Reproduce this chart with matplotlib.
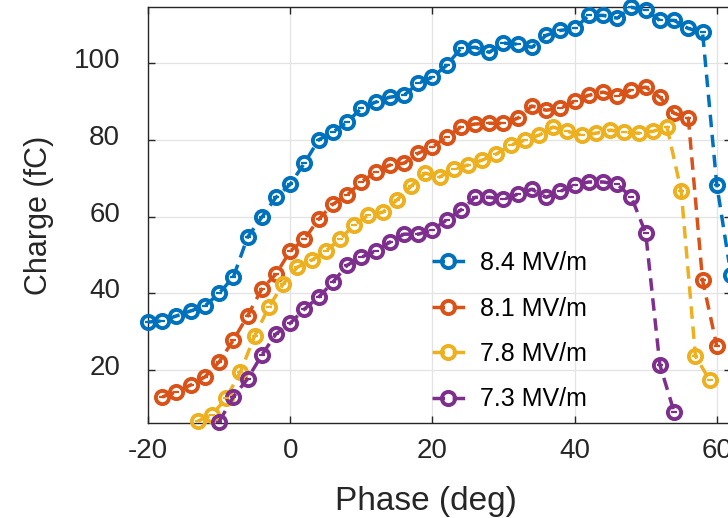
import numpy as np
import matplotlib
matplotlib.use("Agg")
import matplotlib.pyplot as plt
import matplotlib.transforms as mtrans

# datos
fase_84 = [-20, -18, -16, -14, -12, -10, -8, -6, -4, -2, 0, 2, 4, 6, 8, 10, 12, 14, 16, 18,
           20, 22, 24, 26, 28, 30, 32, 34, 36, 38, 40, 42, 44, 46, 48, 50, 52, 54, 56, 58, 60, 62]
carga_84 = [32.5, 32.8, 34.1, 35.4, 36.7, 40.0, 44.2, 54.6, 59.8, 65.0, 68.4, 73.9, 80.0, 82.0,
            84.6, 88.2, 89.8, 91.1, 91.6, 94.7, 96.3, 99.4, 103.8, 104.1, 102.8, 105.2, 104.9,
            104.1, 107.2, 108.5, 109.0, 112.4, 112.4, 111.7, 114.5, 113.8, 111.1, 111.1, 109.0,
            108.0, 68.3, 44.7]

fase_81 = [-18, -16, -14, -12, -10, -8, -6, -4, -2, 0, 2, 4, 6, 8, 10, 12, 14, 16, 18, 20,
           22, 24, 26, 28, 30, 32, 34, 36, 38, 40, 42, 44, 46, 48, 50, 52, 54, 56, 58, 60]
carga_81 = [13.0, 14.3, 16.1, 18.2, 22.1, 27.8, 34.1, 41.1, 45.0, 51.0, 54.1, 59.3, 63.2, 65.6,
            69.0, 71.6, 73.4, 73.9, 76.5, 78.1, 80.7, 83.3, 84.1, 84.3, 84.3, 85.6, 88.8, 87.7,
            88.2, 90.0, 91.6, 92.4, 91.4, 93.0, 93.7, 91.1, 86.9, 85.6, 43.4, 26.3]

fase_78 = [-13, -11, -9, -7, -5, -3, -1, 1, 3, 5, 7, 9, 11, 13, 15, 17, 19, 21, 23, 25,
           27, 29, 31, 33, 35, 37, 39, 41, 43, 45, 47, 49, 51, 53, 55, 57, 59]
carga_78 = [6.7, 8.3, 12.7, 19.5, 28.9, 36.4, 42.4, 46.8, 48.6, 51.0, 54.1, 57.8, 60.4, 61.1,
            64.3, 67.9, 71.3, 70.3, 72.3, 73.4, 74.7, 76.3, 78.6, 79.9, 81.2, 83.3, 82.2, 81.2,
            81.7, 82.5, 82.0, 81.7, 82.2, 83.3, 66.6, 23.6, 17.4]

fase_73 = [-10, -8, -6, -4, -2, 0, 2, 4, 6, 8, 10, 12, 14, 16, 18, 20, 22, 24, 26, 28,
           30, 32, 34, 36, 38, 40, 42, 44, 46, 48, 50, 52, 54]
carga_73 = [6.5, 13.0, 17.7, 23.9, 29.4, 32.2, 35.9, 39.0, 42.9, 47.3, 49.4, 51.0, 53.3, 55.4,
            55.4, 56.5, 59.1, 61.7, 65.0, 65.0, 64.5, 65.8, 67.1, 65.0, 66.6, 68.2, 69.0, 69.0,
            68.4, 65.0, 55.7, 21.3, 9.1]

series = [(fase_84, carga_84, "8.4 MV/m", "#0072BD"),
          (fase_81, carga_81, "8.1 MV/m", "#D95319"),
          (fase_78, carga_78, "7.8 MV/m", "#EDB120"),
          (fase_73, carga_73, "7.3 MV/m", "#7E2F8E")]

plt.rcParams['font.family'] = ['Liberation Sans', 'DejaVu Sans']
plt.rcParams['lines.scale_dashes'] = False
plt.rcParams['axes.unicode_minus'] = False

fig = plt.figure(figsize=(7.28, 5.18), dpi=100)
ax = fig.add_axes([148/728, 95/518, 583/728, 416/518])

for x, y, nombre, col in series:
    ax.plot(x, y, linestyle=(0, (9, 5.5)), color=col, lw=2.5, marker='o',
            fillstyle='none', ms=9.5, mew=2.8, label=nombre, clip_on=False, zorder=3)
    ax.plot(x, y, linestyle='none', color=col, marker='_', ms=5, mew=1.6,
            clip_on=False, zorder=4)

ax.set_xlim(-20, 62)
ax.set_ylim(6.2, 114.6)
ax.set_xticks([-20, 0, 20, 40, 60])
ax.set_yticks([20, 40, 60, 80, 100])
ax.grid(True, color='#e3e3e3', lw=0.9)
ax.set_axisbelow(True)
ax.tick_params(direction='in', length=5, width=1, top=True, right=True,
               labelsize=20, colors='#262626')
ax.tick_params(axis='x', pad=11)
ax.tick_params(axis='y', pad=20)
subir = mtrans.ScaledTranslation(0, 5/100, fig.dpi_scale_trans)
for lab in ax.get_yticklabels():
    lab.set_transform(lab.get_transform() + subir)
for s in ax.spines.values():
    s.set_color('#262626')
    s.set_linewidth(1)

ax.set_xlabel("Phase (deg)", fontsize=24, color='#262626')
ax.set_ylabel("Charge (fC)", fontsize=22, color='#262626')
ax.xaxis.set_label_coords((426-148)/583, -(486-423)/416)
ax.yaxis.set_label_coords(-(148-54)/583, 0.5)

ax.legend(loc='upper left', bbox_to_anchor=(432/728, 1 - 251/518),
          bbox_transform=fig.transFigure, frameon=False, fontsize=18,
          borderpad=0, borderaxespad=0, handlelength=1.3, handletextpad=0.6,
          labelspacing=0.86)

fig.savefig("out.png", dpi=100)
